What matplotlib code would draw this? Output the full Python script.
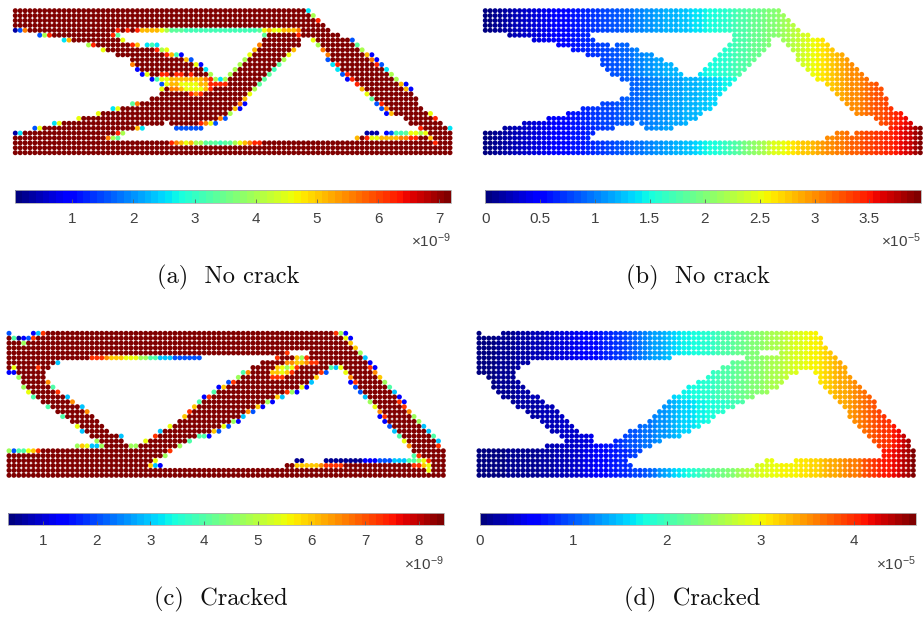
import matplotlib
matplotlib.use('Agg')
from matplotlib import pyplot as plt

W, H = 924, 620

plt.rcParams['font.family'] = ['Liberation Sans', 'DejaVu Sans']
plt.rcParams['mathtext.default'] = 'regular'

# (first col, last col) of the dots in each of the 30 rows
spans_ab = [
    [(0, 60)], [(0, 61)], [(0, 62)], [(0, 63)], [(0, 64)],
    [(5, 21), (51, 66)],
    [(10, 22), (51, 58), (61, 69)],
    [(15, 25), (27, 29), (50, 58), (62, 70)],
    [(18, 31), (49, 57), (63, 71)],
    [(21, 34), (48, 56), (64, 73)],
    [(24, 36), (47, 55), (64, 74)],
    [(24, 38), (46, 54), (65, 75)],
    [(25, 39), (45, 53), (66, 76)],
    [(26, 40), (44, 52), (67, 77)],
    [(28, 51), (68, 78)],
    [(30, 50), (70, 80)],
    [(30, 49), (71, 81)],
    [(30, 48), (72, 81)],
    [(28, 47), (73, 82)],
    [(24, 47), (74, 82)],
    [(20, 46), (75, 83)],
    [(17, 44), (76, 85)],
    [(13, 43), (80, 86)],
    [(8, 30), (32, 41), (81, 87)],
    [(4, 26), (33, 38), (83, 89)],
    [(0, 22), (72, 74), (76, 89)],
    [(0, 21), (70, 89)],
    [(0, 89)], [(0, 89)], [(0, 89)],
]

spans_cd = [
    [(0, 0), (5, 69)],
    [(0, 70)], [(0, 70)], [(0, 71)],
    [(0, 57), (62, 72)],
    [(0, 39), (55, 73)],
    [(0, 10), (52, 74)],
    [(0, 8), (50, 75)],
    [(0, 7), (48, 65), (69, 75)],
    [(2, 7), (47, 63), (70, 76)],
    [(3, 8), (45, 62), (70, 77)],
    [(3, 9), (43, 61), (71, 78)],
    [(4, 10), (42, 59), (72, 79)],
    [(5, 12), (40, 56), (73, 80)],
    [(7, 13), (39, 54), (74, 81)],
    [(8, 15), (38, 52), (75, 81)],
    [(10, 16), (37, 50), (76, 82)],
    [(11, 17), (36, 48), (76, 83)],
    [(13, 18), (35, 47), (77, 84)],
    [(14, 19), (33, 45), (78, 85)],
    [(15, 20), (31, 43), (79, 86)],
    [(17, 23), (30, 41), (80, 87)],
    [(18, 23), (28, 37), (81, 88)],
    [(14, 35), (82, 88)],
    [(0, 33), (83, 89)],
    [(0, 32), (83, 89)],
    [(0, 30), (59, 60), (65, 89)],
    [(0, 31), (57, 89)],
    [(0, 89)], [(0, 89)],
]

# stress level letters, read against each colour bar
levels_a = dict(N=.3, B=1.0, A=1.6, C=2.6, T=3.1, G=3.4, L=4.0, Y=4.6, O=5.1, D=5.6, R=6.3)
levels_c = dict(N=.6, B=1.3, A=2.0, C=3.0, G=4.0, L=4.7, Y=5.5, O=6.0, D=6.5, R=7.3)

# (row, first col, letters) for the dots that are not dark red, '.' skips one
accents_a = [
    (0, 60, 'C'), (1, 61, 'L'), (2, 62, 'R'),
    (4, 0, 'NAD'), (4, 21, 'R.R.R'), (4, 26, 'OOOOYLGGGTTTTTTTTTTTTTTTGYOYYOOOD'),
    (5, 5, 'ALR'), (5, 20, 'RG'), (5, 51, 'G'), (5, 58, 'R'),
    (6, 10, 'CO'), (6, 22, 'Y'), (6, 61, 'Y'), (6, 69, 'A'),
    (7, 15, 'LR'), (7, 24, 'RO'), (7, 27, 'CTC'), (7, 50, 'D'), (7, 62, 'L'), (7, 70, 'G'),
    (8, 18, 'Y'), (8, 29, 'RLY'), (8, 49, 'O'), (8, 57, 'O'), (8, 63, 'D'), (8, 71, 'L'),
    (9, 31, 'ROTB'), (9, 48, 'Y'), (9, 56, 'Y'), (9, 64, 'D'), (9, 72, 'OB'),
    (10, 35, 'OA'), (10, 47, 'L'), (10, 55, 'L'), (10, 64, 'A'), (10, 73, 'DB'),
    (11, 24, 'D'), (11, 37, 'YB'), (11, 46, 'L'), (11, 54, 'G'), (11, 65, 'CR'), (11, 74, 'RA'),
    (12, 25, 'B'), (12, 39, 'C'), (12, 45, 'L'), (12, 53, 'T'), (12, 66, 'C'), (12, 76, 'C'),
    (13, 26, 'BY'), (13, 30, 'RR.RR.R'), (13, 40, 'L'), (13, 44, 'L'), (13, 52, 'G'), (13, 67, 'AR'), (13, 77, 'L'),
    (14, 28, 'BTYYOOOOOOODRLCL'), (14, 51, 'G'), (14, 68, 'BR'), (14, 78, 'L'),
    (15, 30, 'AYOOYYYYOORRRR'), (15, 50, 'G'), (15, 70, 'R'), (15, 79, 'OB'),
    (16, 30, 'Y.DDOYYYYOR'), (16, 49, 'L'), (16, 71, 'O'), (16, 80, 'OB'),
    (17, 36, 'RDR'), (17, 48, 'Y'), (17, 72, 'Y'),
    (18, 47, 'O'), (18, 73, 'G'),
    (19, 24, 'GD'), (19, 46, 'DB'), (19, 74, 'AR'),
    (20, 20, 'CY'), (20, 45, 'OB'), (20, 75, 'AD'),
    (21, 17, 'Y'), (21, 44, 'L'), (21, 76, 'BO'), (21, 85, 'Y'),
    (22, 13, 'Y'), (22, 42, 'DA'), (22, 86, 'R'),
    (23, 8, 'CY'), (23, 38, 'RDYA'),
    (24, 4, 'AY'), (24, 25, 'OC'), (24, 33, 'AAAAAA'), (24, 83, 'R'), (24, 89, 'C'),
    (25, 0, 'NC'), (25, 21, 'RL'), (25, 72, 'NNN'), (25, 76, 'BATTGYYLY'),
    (26, 19, 'DLG'), (26, 70, 'O'), (26, 72, 'RYYOOOODDRR'), (26, 85, 'O'),
    (27, 32, 'RDOYOLLGGGTGGLYODRR'), (27, 86, 'R'),
]

accents_c = [
    (0, 0, 'A'), (0, 5, 'BCR'), (0, 67, 'RLB'),
    (1, 1, 'GNBAR'), (1, 69, 'YB'),
    (2, 3, 'L'), (2, 70, 'O'), (3, 71, 'O'),
    (4, 57, 'R'), (4, 72, 'L'),
    (5, 17, 'RRRDOOOYYYLLGGCCCAAAAAA'), (5, 55, 'R'), (5, 59, 'OLR'), (5, 73, 'C'),
    (6, 10, 'C'), (6, 57, 'DDOODRR'), (6, 74, 'B'),
    (7, 1, 'Y'), (7, 6, 'R'), (7, 55, 'OYLYR'), (7, 66, 'GCY'), (7, 74, 'RB'),
    (8, 0, 'BB'), (8, 48, 'GD'), (8, 54, 'OOYOR'), (8, 64, 'RA'), (8, 69, 'Y'), (8, 75, 'D'),
    (9, 2, 'L'), (9, 47, 'L'), (9, 54, 'RRR'), (9, 63, 'O'), (9, 70, 'D'), (9, 76, 'O'),
    (10, 8, 'D'), (10, 45, 'AR'), (10, 62, 'C'), (10, 70, 'BR'), (10, 77, 'L'),
    (11, 3, 'L'), (11, 9, 'G'), (11, 43, 'BO'), (11, 60, 'YB'), (11, 71, 'A'), (11, 78, 'G'),
    (12, 4, 'Y'), (12, 10, 'R'), (12, 42, 'G'), (12, 57, 'RLB'), (12, 72, 'A'), (12, 79, 'C'),
    (13, 5, 'G'), (13, 12, 'C'), (13, 40, 'BR'), (13, 55, 'OC'), (13, 73, 'C'), (13, 80, 'B'),
    (14, 13, 'D'), (14, 39, 'G'), (14, 53, 'LB'), (14, 74, 'L'), (14, 80, 'RB'),
    (15, 8, 'G'), (15, 15, 'C'), (15, 38, 'O'), (15, 51, 'OB'), (15, 75, 'Y'), (15, 81, 'R'),
    (16, 16, 'D'), (16, 37, 'R'), (16, 49, 'DA'), (16, 76, 'D'), (16, 82, 'D'),
    (17, 11, 'G'), (17, 36, 'O'), (17, 48, 'C'), (17, 76, 'BR'), (17, 83, 'L'),
    (18, 46, 'LB'), (18, 77, 'B'), (18, 84, 'L'),
    (19, 14, 'Y'), (19, 33, 'Y'), (19, 44, 'YA'), (19, 78, 'A'), (19, 85, 'C'),
    (20, 15, 'C'), (20, 31, 'C'), (20, 42, 'OA'), (20, 79, 'C'), (20, 86, 'C'),
    (21, 23, 'C'), (21, 30, 'R'), (21, 39, 'GGB'), (21, 80, 'G'), (21, 87, 'G'),
    (22, 18, 'L'), (22, 28, 'Y'), (22, 37, 'G'), (22, 81, 'Y'), (22, 88, 'C'),
    (23, 14, 'LOYCCL'), (23, 25, 'LL'), (23, 35, 'L'), (23, 82, 'D'), (23, 88, 'R'),
    (24, 0, 'LAGGYOR'), (24, 33, 'R'),
    (25, 32, 'L'), (25, 83, 'GR'),
    (26, 30, 'Y'), (26, 59, 'NN'), (26, 65, 'NNNNNNNNBBBAAACCCGGLYR'),
    (27, 29, 'OCB'), (27, 59, 'OOOOODRRRR'), (27, 83, 'RROY'),
    (28, 86, 'Y'),
]

# displacement read per column, for the upper rows 0-13, rows 14-23 and rows 24-29
b_upper = [
    .03, .06, .09, .12, .15, .18, .21, .24, .27, .30,
    .33, .36, .39, .42, .45, .48, .51, .54, .57, .60,
    .63, .66, .69, .72, .75, .78, .81, .85, .89, .93,
    .97, 1.0, 1.03, 1.06, 1.09, 1.12, 1.15, 1.18, 1.21, 1.24,
    1.27, 1.3, 1.33, 1.37, 1.41, 1.45, 1.49, 1.53, 1.57, 1.61,
    1.66, 1.7, 1.74, 1.78, 1.83, 1.87, 1.91, 1.95, 2.0, 2.03,
    2.07, 2.12, 2.18, 2.24, 2.3, 2.37, 2.45, 2.52, 2.58, 2.64,
    2.7, 2.76, 2.82, 2.88, 2.93, 2.98, 3.03, 3.08, 3.13, 3.18,
    3.23, 3.28, 3.33, 3.38, 3.44, 3.5, 3.56, 3.63, 3.72, 3.85,
]
b_middle = [
    .03, .06, .09, .12, .15, .18, .21, .24, .27, .30,
    .33, .36, .39, .42, .45, .48, .51, .54, .57, .60,
    .63, .66, .69, .72, .75, .77, .79, .82, .85, .88,
    .9, .93, .96, .99, 1.02, 1.05, 1.08, 1.1, 1.12, 1.14,
    1.16, 1.18, 1.2, 1.22, 1.25, 1.28, 1.32, 1.36, 1.4, 1.44,
    1.48, 1.52, 1.56, 1.6, 1.64, 1.68, 1.72, 1.76, 1.8, 1.84,
    2.07, 2.12, 2.18, 2.24, 2.3, 2.37, 2.45, 2.52, 2.58, 2.64,
    2.7, 2.76, 2.82, 2.88, 2.93, 2.98, 3.03, 3.08, 3.13, 3.18,
    3.23, 3.28, 3.33, 3.38, 3.44, 3.5, 3.56, 3.63, 3.72, 3.85,
]
b_lower = [
    .03, .06, .09, .12, .15, .18, .21, .24, .27, .3,
    .32, .35, .38, .41, .44, .47, .5, .53, .56, .59,
    .62, .65, .68, .71, .74, .77, .8, .83, .86, .89,
    .92, .95, .98, 1.01, 1.04, 1.07, 1.1, 1.13, 1.16, 1.19,
    1.22, 1.26, 1.3, 1.35, 1.4, 1.45, 1.5, 1.55, 1.6, 1.65,
    1.72, 1.79, 1.86, 1.93, 2.0, 2.06, 2.14, 2.22, 2.3, 2.42,
    2.48, 2.53, 2.58, 2.63, 2.68, 2.73, 2.78, 2.83, 2.88, 2.93,
    2.98, 3.02, 3.06, 3.1, 3.14, 3.18, 3.22, 3.26, 3.3, 3.32,
    3.35, 3.38, 3.42, 3.46, 3.5, 3.56, 3.62, 3.7, 3.8, 3.95,
]

d_upper = [
    .02, .03, .04, .06, .08, .10, .12, .14, .16, .18,
    .2, .22, .25, .28, .31, .34, .37, .4, .43, .46,
    .5, .53, .57, .61, .65, .7, .74, .78, .82, .87,
    .93, 1.0, 1.06, 1.12, 1.2, 1.27, 1.33, 1.38, 1.43, 1.5,
    1.57, 1.63, 1.7, 1.74, 1.77, 1.8, 1.84, 1.88, 1.93, 1.99,
    2.05, 2.1, 2.15, 2.2, 2.25, 2.3, 2.35, 2.4, 2.45, 2.5,
    2.55, 2.6, 2.66, 2.73, 2.8, 2.85, 2.9, 2.95, 3.0, 3.05,
    3.12, 3.18, 3.25, 3.3, 3.35, 3.4, 3.47, 3.54, 3.6, 3.66,
    3.72, 3.8, 3.87, 3.94, 4.0, 4.08, 4.16, 4.3, 4.45, 4.66,
]
d_middle = [
    .02, .03, .04, .06, .08, .10, .12, .14, .15, .17,
    .18, .2, .21, .22, .24, .26, .28, .3, .32, .34,
    .36, .38, .42, .46, .52, .6, .66, .72, .78, .84,
    .9, .95, 1.0, 1.05, 1.1, 1.15, 1.2, 1.25, 1.3, 1.35,
    1.4, 1.47, 1.54, 1.6, 1.65, 1.68, 1.72, 1.76, 1.8, 1.84,
    1.88, 1.92, 1.97, 2.02, 2.07, 2.12, 2.16, 2.2, 2.24, 2.28,
    2.55, 2.6, 2.66, 2.73, 2.8, 2.85, 2.9, 2.95, 3.0, 3.05,
    3.12, 3.18, 3.25, 3.3, 3.35, 3.4, 3.47, 3.54, 3.6, 3.66,
    3.72, 3.8, 3.87, 3.94, 4.0, 4.08, 4.16, 4.3, 4.45, 4.66,
]
d_lower = [
    .02, .03, .04, .05, .06, .07, .08, .09, .09, .1,
    .1, .12, .14, .16, .18, .2, .22, .24, .27, .3,
    .35, .4, .45, .5, .56, .6, .63, .66, .7, .74,
    .78, .83, .88, .94, 1.0, 1.08, 1.15, 1.25, 1.33, 1.44,
    1.55, 1.63, 1.72, 1.8, 1.88, 1.95, 2.1, 2.16, 2.21, 2.26,
    2.3, 2.35, 2.4, 2.5, 2.58, 2.66, 2.75, 2.8, 2.85, 2.9,
    2.95, 2.97, 2.99, 3.01, 3.03, 3.05, 3.08, 3.12, 3.16, 3.2,
    3.26, 3.3, 3.35, 3.4, 3.46, 3.52, 3.58, 3.64, 3.7, 3.8,
    3.9, 3.97, 4.05, 4.1, 4.15, 4.2, 4.28, 4.38, 4.5, 4.66,
]

ticks_a = [1, 2, 3, 4, 5, 6, 7]
ticks_b = [0, .5, 1, 1.5, 2, 2.5, 3, 3.5]
ticks_c = [1, 2, 3, 4, 5, 6, 7, 8]
ticks_d = [0, 1, 2, 3, 4]
labels_b = ['0', '0.5', '1', '1.5', '2', '2.5', '3', '3.5']

fig = plt.figure(figsize=(W / 100, H / 100), dpi=100, facecolor='white')
jet = plt.get_cmap('jet', 64)


def add_box(left, top, right, bottom):
    return fig.add_axes([left / W, 1 - bottom / H, (right - left) / W, (bottom - top) / H])


def stress_values(spans, accents, levels, vmax):
    values = {}
    for row, row_spans in enumerate(spans):
        for first, last in row_spans:
            for col in range(first, last + 1):
                values[(row, col)] = vmax
    for row, col, letters in accents:
        for i, letter in enumerate(letters):
            if letter != '.':
                values[(row, col + i)] = levels[letter]
    return values


def displacement_values(spans, upper, middle, lower):
    values = {}
    for row, row_spans in enumerate(spans):
        band = upper if row < 14 else middle if row < 24 else lower
        for first, last in row_spans:
            for col in range(first, last + 1):
                values[(row, col)] = band[col]
    return values


def draw_panel(values, vmin, vmax, box, bar_box, ticks, exponent, caption, caption_x, labels=None):
    left, top, right, bottom = box
    ax = add_box(left, top, right, bottom)
    keys = sorted(values, key=lambda k: values[k])
    sc = ax.scatter([k[1] for k in keys], [k[0] for k in keys], c=[values[k] for k in keys],
                    s=13, linewidths=0, cmap=jet, vmin=vmin, vmax=vmax, clip_on=False)
    ax.set_xlim(0, 89)
    ax.set_ylim(29, 0)
    ax.axis('off')

    cax = add_box(*bar_box)
    bar = fig.colorbar(sc, cax=cax, orientation='horizontal')
    bar.set_ticks(ticks)
    if labels:
        bar.set_ticklabels(labels)
    bar.outline.set_edgecolor('#b0b0b0')
    bar.outline.set_linewidth(.6)
    cax.tick_params(direction='in', length=3, width=.6, color='#606060', labelsize=11,
                    labelcolor='#404040', pad=6.5)

    fig.text(bar_box[2] / W, 1 - (bar_box[3] + 38.5) / H, r'$\times 10^{%d}$' % exponent, fontsize=11,
             color='#404040', ha='right', va='center')
    fig.text(caption_x / W, 1 - (bar_box[3] + 74.5) / H, caption, family='cmr10', fontsize=17.6,
             color='#101010', ha='center', va='center')


draw_panel(stress_values(spans_ab, accents_a, levels_a, 7.19), .07, 7.19,
           (15.3, 10.7, 450, 152.7), (15.3, 190.3, 451, 202.7), ticks_a, -9, '(a)  No crack', 228)
draw_panel(displacement_values(spans_ab, b_upper, b_middle, b_lower), 0, 3.97,
           (485.3, 10.7, 920.3, 152.7), (485.3, 190.3, 921, 202.7), ticks_b, -5, '(b)  No crack', 698, labels_b)
draw_panel(stress_values(spans_cd, accents_c, levels_c, 8.47), .35, 8.47,
           (9, 333.3, 443.3, 475.3), (8, 512.7, 444, 525), ticks_c, -9, '(c)  Cracked', 221)
draw_panel(displacement_values(spans_cd, d_upper, d_middle, d_lower), 0, 4.66,
           (479, 333.3, 913.3, 475.3), (479.7, 512.7, 915.5, 525), ticks_d, -5, '(d)  Cracked', 692)

fig.savefig('out.png', dpi=100)
